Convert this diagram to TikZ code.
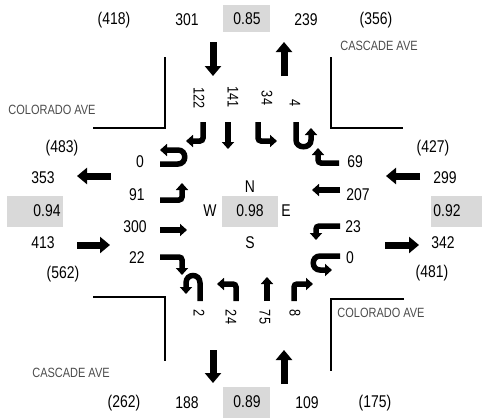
\documentclass[tikz,border=0pt]{standalone}
\usepackage{fontspec}
\setmainfont{Liberation Sans}[FakeStretch=0.82]
\usepackage{tikz}
\usetikzlibrary{arrows.meta, positioning}

\begin{document}
\begin{tikzpicture}[x=1pt, y=-1pt,
  big/.style={line width=7pt, -{Triangle[length=10pt,width=16pt]}},
  lane/.style={line width=5.5pt, rounded corners=3pt, -{Triangle[length=7pt,width=12pt]}},
  val/.style={font=\fontsize{17}{19}\selectfont},
  turn/.style={font=\fontsize{15.5}{17}\selectfont, rotate=-90},
  street/.style={font=\fontsize{13.4}{15}\selectfont, text=black!70},
  gbox/.style={fill=black!15, draw=none}]

\useasboundingbox (0,0) rectangle (482,418);

% ratio boxes
\fill[gbox] (223,5) rectangle (270,32);
\fill[gbox] (223,387) rectangle (270,418);
\fill[gbox] (7,196) rectangle (63,227);
\fill[gbox] (431,196) rectangle (482,227);
\fill[gbox] (222,196) rectangle (278,227);

% curb corners
\draw[line width=2pt] (165,57) -- (165,128) -- (93,128);
\draw[line width=2pt] (331,57) -- (331,128) -- (403,128);
\draw[line width=2pt] (93,297) -- (165,297) -- (165,361);
\draw[line width=2pt] (404,299) -- (331,299) -- (331,371);

% street names
\node[street] (cascN) at (379,46) {CASCADE AVE};
\node[street] (colW) at (52,110) {COLORADO AVE};
\node[street] (colE) at (381,313) {COLORADO AVE};
\node[street] (cascS) at (71,373) {CASCADE AVE};

% north leg
\node[val] (nPk) at (114,20) {(418)};
\node[val] (nIn) at (187,20) {301};
\node[val] (nPhf) at (247,19) {0.85};
\node[val] (nOut) at (306,20) {239};
\node[val] (nPkOut) at (376,20) {(356)};
\draw[big] (213,42) -- (213,76);
\draw[big] (284,76) -- (284,42);

\node[turn] (sbR) at (199,98) {122};
\node[turn] (sbT) at (233,97) {141};
\node[turn] (sbL) at (267,98) {34};
\node[turn] (sbU) at (295,103) {4};
\draw[lane] (203,122) -- (203,141) -- (186,141);
\draw[lane] (228,122) -- (228,149);
\draw[lane] (258,122) -- (258,141) -- (277,141);
\draw[lane] (296,122) -- (296,137) .. controls (296,149) and (311,149) .. (311,137) -- (311,128);

% south leg
\node[val] (sPk) at (124,403) {(262)};
\node[val] (sOut) at (187,403) {188};
\node[val] (sPhf) at (247,402) {0.89};
\node[val] (sIn) at (307,403) {109};
\node[val] (sPkIn) at (375,403) {(175)};
\draw[big] (213,350) -- (213,383);
\draw[big] (284,384) -- (284,350);

\node[turn] (nbU) at (199,313) {2};
\node[turn] (nbL) at (231,317) {24};
\node[turn] (nbT) at (265,317) {75};
\node[turn] (nbR) at (295,313) {8};
\draw[lane] (200,301) -- (200,286) .. controls (200,273) and (186,273) .. (186,286) -- (186,294);
\draw[lane] (236,301) -- (236,284) -- (217,284);
\draw[lane] (267,301) -- (267,277);
\draw[lane] (294,301) -- (294,284) -- (313,284);

% west leg
\node[val] (wPkOut) at (62,148) {(483)};
\node[val] (wOut) at (43,178) {353};
\node[val] (wPhf) at (47,211) {0.94};
\node[val] (wIn) at (43,243) {413};
\node[val] (wPk) at (63,274) {(562)};
\draw[big] (111,176) -- (77,176);
\draw[big] (77,245) -- (110,245);

\node[val] (ebU) at (140,162) {0};
\node[val] (ebL) at (137,195) {91};
\node[val] (ebT) at (135,227) {300};
\node[val] (ebR) at (137,258) {22};
\draw[lane] (160,164) -- (175,164) .. controls (187,164) and (187,150) .. (175,150) -- (160,150);
\draw[lane] (160,200) -- (182,200) -- (182,183);
\draw[lane] (160,230) -- (187,230);
\draw[lane] (160,257) -- (182,257) -- (182,275);

% east leg
\node[val] (ePk) at (433,148) {(427)};
\node[val] (eIn) at (445,178) {299};
\node[val] (ePhf) at (447,211) {0.92};
\node[val] (eOut) at (443,243) {342};
\node[val] (ePkOut) at (432,273) {(481)};
\draw[big] (420,176) -- (386,176);
\draw[big] (385,245) -- (419,245);

\node[val] (wbR) at (355,162) {69};
\node[val] (wbT) at (358,195) {207};
\node[val] (wbL) at (353,227) {23};
\node[val] (wbU) at (350,258) {0};
\draw[lane] (339,163) -- (318,163) -- (318,148);
\draw[lane] (340,190) -- (312,190);
\draw[lane] (340,226) -- (316,226) -- (316,240);
\draw[lane] (340,256) -- (323,256) .. controls (311,256) and (311,270) .. (323,270) -- (332,270);

% centre
\node[val] (cN) at (250,187) {N};
\node[val] (cW) at (210,211) {W};
\node[val] (cPhf) at (250,211) {0.98};
\node[val] (cE) at (286,211) {E};
\node[val] (cS) at (250,243) {S};
\end{tikzpicture}
\end{document}
